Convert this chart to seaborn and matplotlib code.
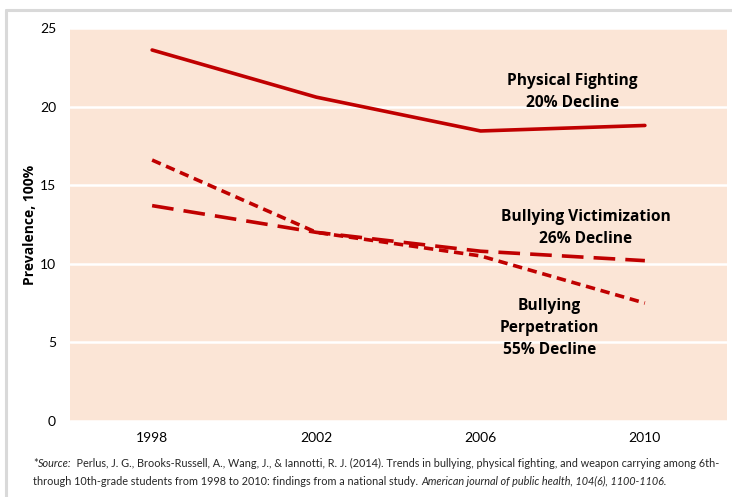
import matplotlib
matplotlib.use("Agg")
import matplotlib.pyplot as plt
import seaborn as sns
import pandas as pd
from matplotlib.lines import Line2D

years = ["1998", "2002", "2006", "2010"]
physical_fighting = [23.6, 20.6, 18.45, 18.8]
bullying_victimization = [13.7, 12.0, 10.8, 10.2]
bullying_perpetration = [16.6, 12.0, 10.5, 7.5]
series_names = ["Physical Fighting", "Bullying Victimization", "Bullying Perpetration"]
yticks = [0, 5, 10, 15, 20, 25]

df = pd.concat([
    pd.DataFrame({"year": years, "value": physical_fighting, "series": series_names[0]}),
    pd.DataFrame({"year": years, "value": bullying_victimization, "series": series_names[1]}),
    pd.DataFrame({"year": years, "value": bullying_perpetration, "series": series_names[2]}),
])

sns.set_theme(style="white")
plt.rcParams["font.family"] = ["Lato", "DejaVu Sans"]

RED = "#C00000"
fig = plt.figure(figsize=(7.32, 4.97), dpi=100)
ax = fig.add_axes([70/732, 1-421/497, (727-70)/732, (421-28)/497])
ax.set_facecolor("#FBE5D6")

sns.lineplot(data=df, x="year", y="value", hue="series", style="series",
             palette={n: RED for n in series_names},
             dashes={series_names[0]: "", series_names[1]: (6, 2.8), series_names[2]: (2.6, 1.6)},
             linewidth=2.6, legend=False, ax=ax, sort=False)

ax.set_xlim(-0.5, 3.5)
ax.set_ylim(0, 25)
ax.set_yticks(yticks)
ax.set_yticklabels([str(t) for t in yticks])
ax.yaxis.grid(True, color="white", linewidth=1.8)
ax.set_axisbelow(True)
for s in ax.spines.values():
    s.set_visible(False)
ax.tick_params(axis="both", length=0, labelsize=10, colors="black")
ax.tick_params(axis="y", pad=10)
ax.tick_params(axis="x", pad=8)
ax.set_xlabel("")
ax.set_ylabel("Prevalence, 100%", fontsize=10, fontweight="bold", family=["Open Sans", "DejaVu Sans"],
              color="black")
ax.yaxis.set_label_coords((37 - 70) / (727 - 70), 0.5)

kw = dict(fontsize=11.2, fontweight="bold", ha="center", va="center", linespacing=1.5,
          family=["Open Sans", "DejaVu Sans"], color="black")
ax.text(2.56, 20.9, "Physical Fighting\n20% Decline", **kw)
ax.text(2.64, 12.3, "Bullying Victimization\n26% Decline", **kw)
ax.text(2.42, 5.9, "Bullying\nPerpetration\n55% Decline", **kw)

# outer border lines
fig.add_artist(Line2D([6/732, 6/732], [0, 1-10/497], color="#D9D9D9", lw=2.2, transform=fig.transFigure))
fig.add_artist(Line2D([6/732, 1], [1-10/497, 1-10/497], color="#D9D9D9", lw=2.2, transform=fig.transFigure))

# footnote with mixed italic
fs = 7.8
fam = ["Liberation Sans Narrow", "Lato", "DejaVu Sans"]
fig.canvas.draw()
renderer = fig.canvas.get_renderer()

def write_run(parts, x0, y):
    x = x0
    for txt, style in parts:
        t = fig.text(x, y, txt, fontsize=fs, style=style, family=fam, ha="left", va="baseline")
        bb = t.get_window_extent(renderer=renderer)
        x = (bb.x1) / fig.bbox.width
    return x

write_run([("*", "normal"), ("Source:", "italic"),
           ("  Perlus, J. G., Brooks-Russell, A., Wang, J., & Iannotti, R. J. (2014). Trends in bullying, physical fighting, and weapon carrying among 6th-", "normal")],
          33/732, 1-467/497)
write_run([("through 10th-grade students from 1998 to 2010: findings from a national study. ", "normal"),
           ("American journal of public health, 104(6), 1100-1106.", "italic")],
          33/732, 1-485/497)

fig.savefig("out.png", dpi=100)
